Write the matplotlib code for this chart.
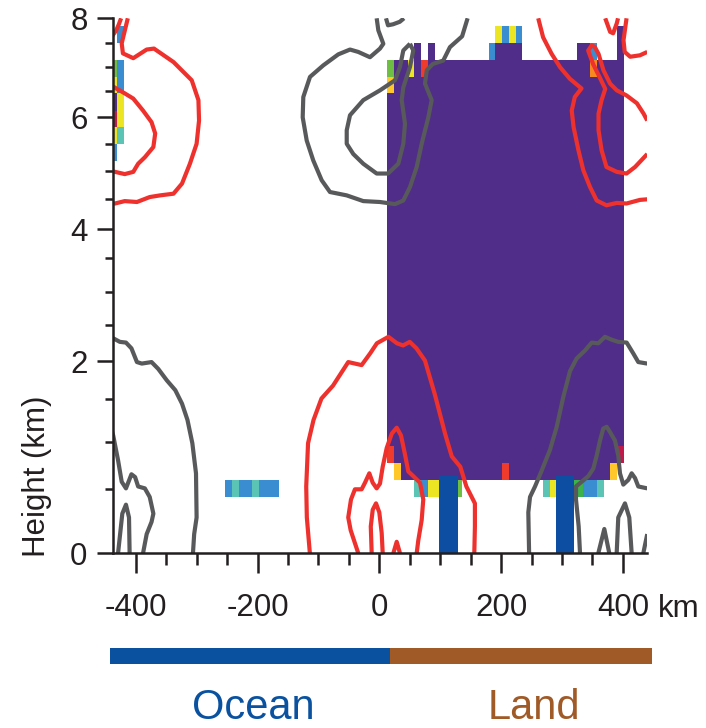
import numpy as np
import matplotlib
matplotlib.use("Agg")
import matplotlib.pyplot as plt
from matplotlib.colors import ListedColormap
from matplotlib.ticker import FixedLocator, MultipleLocator, NullFormatter

plt.rcParams['font.family'] = ['Liberation Sans', 'DejaVu Sans']
plt.rcParams['axes.unicode_minus'] = False

# ---------------- vertical axis stretching (height km -> relative position) ----------
Z_TICK_KM = [0, 0.5, 1, 1.5, 2, 2.5, 3, 3.5, 4, 4.5, 5, 5.5, 6, 6.5, 7, 7.5, 8]
Z_TICK_POS = [0, 64, 111, 154, 192, 228, 261, 295, 324, 354, 382, 409, 436, 462, 486, 510, 535]
Y_MAJOR = [0, 2, 4, 6, 8]
X_MAJOR = [-400, -200, 0, 200, 400]
X_LIM = (-436.8, 439.1)

# ---------------- cell grid ----------------
CELL_X0_KM = -442.0
CELL_DX_KM = 11.1
N_COLS = 80
ROW_EDGES_KM = [0.44, 0.60, 0.78, 0.96, 1.15, 1.34, 1.54, 1.76, 1.99, 2.22, 2.45,
                2.70, 2.96, 3.20, 3.45, 3.73, 4.02, 4.30, 4.59, 4.89, 5.19, 5.51,
                5.82, 6.13, 6.46, 6.80, 7.15, 7.50, 7.84]

CATEGORIES = ['P', 'B', 'T', 'Y', 'G', 'L', 'N', 'R', 'C', 'O']
CAT_COLORS = ['#4F2D89', '#3A8DD0', '#5BC4B4', '#ECE524', '#FFC72A', '#6EBE44',
              '#3BB34A', '#EE3B2B', '#C2194B', '#F6891F']

# (row_lo, row_hi, col_lo, col_hi, category)
CELL_RUNS = [
    (0, 0, 17, 17, 'B'), (0, 0, 18, 18, 'T'), (0, 0, 19, 20, 'B'), (0, 0, 21, 21, 'T'),
    (0, 0, 22, 24, 'B'), (0, 0, 45, 45, 'T'), (0, 0, 46, 46, 'B'), (0, 0, 47, 49, 'Y'),
    (0, 0, 50, 51, 'L'), (0, 0, 64, 64, 'T'), (0, 0, 65, 66, 'Y'), (0, 0, 67, 69, 'N'),
    (0, 0, 70, 71, 'B'), (0, 0, 72, 72, 'T'),
    (1, 1, 42, 42, 'G'), (1, 1, 43, 57, 'P'), (1, 1, 58, 58, 'R'), (1, 1, 59, 73, 'P'),
    (1, 1, 74, 74, 'G'),
    (2, 2, 41, 41, 'R'), (2, 2, 42, 74, 'P'), (2, 2, 75, 75, 'C'),
    (3, 23, 41, 75, 'P'),
    (20, 20, 0, 0, 'B'),
    (21, 21, 0, 0, 'Y'), (21, 21, 1, 1, 'T'),
    (22, 22, 0, 0, 'C'), (22, 22, 1, 1, 'Y'),
    (23, 23, 0, 0, 'P'), (23, 23, 1, 1, 'Y'),
    (24, 24, 0, 0, 'Y'), (24, 24, 1, 1, 'B'), (24, 24, 41, 41, 'G'), (24, 24, 42, 75, 'P'),
    (25, 25, 0, 0, 'L'), (25, 25, 1, 1, 'B'), (25, 25, 41, 41, 'L'), (25, 25, 42, 43, 'P'),
    (25, 25, 44, 44, 'Y'), (25, 25, 45, 45, 'P'), (25, 25, 46, 46, 'R'), (25, 25, 47, 70, 'P'),
    (25, 25, 71, 71, 'O'), (25, 25, 72, 75, 'P'),
    (26, 26, 45, 45, 'P'), (26, 26, 47, 47, 'P'), (26, 26, 56, 56, 'B'), (26, 26, 57, 60, 'P'),
    (26, 26, 69, 70, 'P'), (26, 26, 71, 71, 'B'), (26, 26, 75, 75, 'P'),
    (27, 27, 1, 1, 'B'), (27, 27, 57, 57, 'Y'), (27, 27, 58, 58, 'B'), (27, 27, 59, 59, 'Y'),
    (27, 27, 60, 60, 'B'), (27, 27, 75, 75, 'P'),
]

# ---------------- surface rain bars ----------------
RAIN_CENTER_KM = [113.6, 304.7]
RAIN_WIDTH_KM = [30.0, 30.0]
RAIN_TOP_KM = [0.64, 0.64]
RAIN_COLOR = '#0D4EA2'

# ---------------- red contours (x km, z km) ----------------
red_a_x = [-413, -419, -423, -421, -404, -382, -370, -338, -308, -297, -296, -300, -311,
           -324, -338, -360, -377, -398, -418, -434, -440]
red_a_z = [8.0, 7.70, 7.50, 7.29, 7.19, 7.37, 7.39, 7.11, 6.73, 6.33, 5.94, 5.51, 5.14,
           4.78, 4.60, 4.57, 4.54, 4.455, 4.47, 4.43, 4.43]
red_b_x = [-440, -432, -428, -424]
red_b_z = [7.62, 7.76, 7.87, 8.0]
red_c_x = [-440, -436, -418, -404, -388, -374, -368, -371, -385, -396, -404, -418, -434, -440]
red_c_z = [6.62, 6.59, 6.46, 6.36, 6.13, 5.91, 5.70, 5.45, 5.26, 5.14, 4.99, 4.95, 4.99, 5.0]
red_d_x = [-114, -119, -120, -117, -108, -95, -76, -51, -29, -15, -4, 15, 29, 39, 50, 61,
           75, 91, 108, 119, 133, 143, 157, 157, 156]
red_d_z = [0, 0.28, 0.53, 0.99, 1.26, 1.51, 1.68, 1.99, 1.95, 2.11, 2.25, 2.34, 2.25, 2.22,
           2.27, 2.18, 2.01, 1.57, 1.10, 0.85, 0.74, 0.53, 0.39, 0.21, 0]
red_e_x = [-34.5, -47, -51, -46.5, -40, -29, -23.5, -16.4, -10.8, -4.3, 1.1, 5.6, 12.2,
           20.4, 28.6, 35.6, 42.2, 47.6, 55.8, 66.8, 72.2, 69.6, 64, 61.4]
red_e_z = [0, 0.18, 0.28, 0.42, 0.50, 0.50, 0.57, 0.67, 0.57, 0.51, 0.56, 0.74, 0.94,
           1.10, 1.17, 1.08, 0.87, 0.69, 0.64, 0.57, 0.42, 0.26, 0.10, 0]
red_f_x = [-12.5, -14, -10.8, -5.4, 0, 3.9, 5.6]
red_f_z = [0, 0.21, 0.34, 0.39, 0.32, 0.16, 0]
red_g_x = [23, 28.6, 34]
red_g_z = [0, 0.09, 0]
red_h_x = [261, 269, 283, 297, 313, 332, 321, 316, 319, 327, 335, 346, 357, 373, 390, 406,
           428, 440]
red_h_z = [8.0, 7.62, 7.28, 7.0, 6.76, 6.56, 6.39, 6.13, 5.82, 5.39, 5.02, 4.72, 4.48,
           4.40, 4.44, 4.43, 4.49, 4.5]
red_i_x = [440, 420, 406, 390, 373, 365, 360, 360, 365, 371, 362, 351, 343, 349, 354, 360,
           368, 379, 390, 406, 423, 434, 440]
red_i_z = [5.32, 5.08, 4.96, 4.99, 5.08, 5.39, 5.76, 6.07, 6.33, 6.55, 6.79, 7.07, 7.35,
           7.46, 7.42, 7.28, 6.94, 6.66, 6.52, 6.42, 6.27, 6.07, 5.94]
red_j_x = [371, 379, 384, 390, 392]
red_j_z = [8.0, 7.73, 7.70, 7.90, 8.0]
red_k_x = [406, 401, 403, 412, 428, 440]
red_k_z = [8.0, 7.56, 7.32, 7.22, 7.25, 7.32]

# ---------------- gray contours ----------------
gray_a_x = [-440, -437, -426, -416, -407, -398, -390, -374, -363, -349, -335, -324, -315,
            -307, -301, -300, -304, -306]
gray_a_z = [2.33, 2.32, 2.27, 2.26, 2.18, 1.99, 1.97, 1.99, 1.90, 1.75, 1.62, 1.45, 1.26,
            0.99, 0.67, 0.28, 0.15, 0]
gray_b_x = [-440, -437, -429, -423, -416, -407, -401, -396, -385, -377, -371, -374, -382, -388]
gray_b_z = [1.15, 1.08, 0.81, 0.58, 0.51, 0.66, 0.63, 0.53, 0.51, 0.44, 0.31, 0.245, 0.15, 0]
gray_c_x = [-429, -422, -416, -411, -410]
gray_c_z = [0, 0.31, 0.38, 0.28, 0]
gray_d_x = [-4.3, -1.6, 6.6, 1.1, -15.3, -34.5, -48.1, -67.3, -92, -113.8, -124.8, -125.8,
            -119.2, -108.4, -94.6, -81, -53.5, -26.3, 1.1, 25.8, 39.4, 50.4, 61.4, 69.6,
            80.5, 86, 75, 78, 88, 105, 116, 136, 145]
gray_d_z = [8.0, 7.76, 7.49, 7.39, 7.21, 7.32, 7.37, 7.27, 7.04, 6.80, 6.39, 6.0, 5.57,
            5.20, 4.84, 4.63, 4.57, 4.47, 4.455, 4.42, 4.48, 4.72, 5.08, 5.51, 6.0, 6.33,
            6.66, 6.94, 7.07, 7.14, 7.42, 7.64, 8.0]
gray_e_x = [11, 14.3, 22.5, 33.6, 40.5]
gray_e_z = [8.0, 7.86, 7.88, 7.93, 8.0]
gray_f_x = [50.4, 39.4, 34, 25.8, 1.1, -26.3, -48.1, -53.5, -53.5, -42.7, -26.3, -4.3, 14.3,
            31.2, 39.4, 42.2, 36.8, 39.4, 50.4, 55.8, 50.4]
gray_f_z = [7.49, 7.35, 7.01, 6.73, 6.52, 6.33, 6.04, 5.76, 5.51, 5.32, 5.14, 4.96, 4.96,
            5.14, 5.51, 5.88, 6.33, 6.58, 7.01, 7.35, 7.49]
gray_g_x = [246, 244.7, 247.5, 255.7, 266.7, 280.3, 291.3, 302.1, 313.1, 324.1, 337.8,
            348.8, 359.6, 370.6, 381.6, 392.4, 406.2, 417, 425.3, 440]
gray_g_z = [0, 0.32, 0.44, 0.53, 0.70, 0.92, 1.18, 1.53, 1.87, 2.04, 2.15, 2.26, 2.25,
            2.34, 2.30, 2.27, 2.26, 2.11, 1.99, 1.97]
gray_h_x = [329.6, 327.4, 323, 323, 332.3, 343.2, 351.4, 357, 362.4, 367.8, 373.4, 378.8,
            387, 392.4, 395.2, 400.7, 408.9, 414.4, 419.9, 425.3, 440]
gray_h_z = [0, 0.21, 0.42, 0.53, 0.58, 0.64, 0.72, 0.86, 1.02, 1.16, 1.18, 1.12, 1.02,
            0.86, 0.67, 0.55, 0.60, 0.67, 0.62, 0.53, 0.51]
gray_i_x = [359.6, 369.5, 377.7]
gray_i_z = [0, 0.19, 0]
gray_j_x = [389.8, 392.4, 403.4, 410.5, 414.4]
gray_j_z = [0, 0.28, 0.39, 0.28, 0]
gray_k_x = [433.5, 440]
gray_k_z = [0, 0.15]

RED = '#EE312D'
GRAY = '#58595B'

# ---------------- surface type bar ----------------
SURFACE_EDGES_KM = [-442.2, 17.6, 447.8]
SURFACE_NAMES = ['Ocean', 'Land']
SURFACE_COLORS = ['#0A52A0', '#A05A27']

# =============================== drawing ===============================
W, H = 706, 728
fig = plt.figure(figsize=(W / 100, H / 100), dpi=100)
ax_l, ax_r, ax_t, ax_b = 113.3, 646.7, 18.3, 553.3
ax = fig.add_axes([ax_l / W, 1 - ax_b / H, (ax_r - ax_l) / W, (ax_b - ax_t) / H])


def fwd(z):
    return np.interp(z, Z_TICK_KM, Z_TICK_POS)


def inv(p):
    return np.interp(p, Z_TICK_POS, Z_TICK_KM)


ax.set_yscale('function', functions=(fwd, inv))

# cells
n_rows = len(ROW_EDGES_KM) - 1
grid = np.full((n_rows, N_COLS), np.nan)
for r0, r1, c0, c1, cat in CELL_RUNS:
    grid[r0:r1 + 1, c0:c1 + 1] = CATEGORIES.index(cat)
x_edges = CELL_X0_KM + CELL_DX_KM * np.arange(N_COLS + 1)
cmap = ListedColormap(CAT_COLORS)
ax.pcolormesh(x_edges, ROW_EDGES_KM, np.ma.masked_invalid(grid), cmap=cmap,
              vmin=-0.5, vmax=len(CATEGORIES) - 0.5, shading='flat',
              edgecolors='none', linewidth=0, antialiased=False, zorder=1)

lw = 3.0
for xs, zs in [(red_a_x, red_a_z), (red_b_x, red_b_z), (red_c_x, red_c_z),
               (red_d_x, red_d_z), (red_e_x, red_e_z), (red_f_x, red_f_z),
               (red_g_x, red_g_z), (red_h_x, red_h_z), (red_i_x, red_i_z),
               (red_j_x, red_j_z), (red_k_x, red_k_z)]:
    ax.plot(xs, zs, color=RED, lw=lw, solid_joinstyle='round', solid_capstyle='butt', zorder=2)
for xs, zs in [(gray_a_x, gray_a_z), (gray_b_x, gray_b_z), (gray_c_x, gray_c_z),
               (gray_d_x, gray_d_z), (gray_e_x, gray_e_z), (gray_f_x, gray_f_z),
               (gray_g_x, gray_g_z), (gray_h_x, gray_h_z), (gray_i_x, gray_i_z),
               (gray_j_x, gray_j_z), (gray_k_x, gray_k_z)]:
    ax.plot(xs, zs, color=GRAY, lw=lw, solid_joinstyle='round', solid_capstyle='butt', zorder=2)

ax.bar(RAIN_CENTER_KM, RAIN_TOP_KM, width=RAIN_WIDTH_KM, bottom=0, color=RAIN_COLOR,
       linewidth=0, zorder=3)

ax.set_xlim(*X_LIM)
ax.set_ylim(0, 8)

for s in ['top', 'right']:
    ax.spines[s].set_visible(False)
for s in ['left', 'bottom']:
    ax.spines[s].set_linewidth(1.8)
    ax.spines[s].set_color('#231F20')
    ax.spines[s].set_zorder(5)

ax.yaxis.set_major_locator(FixedLocator(Y_MAJOR))
ax.yaxis.set_minor_locator(FixedLocator(Z_TICK_KM))
ax.yaxis.set_minor_formatter(NullFormatter())
ax.set_yticklabels([str(v) for v in Y_MAJOR])
ax.xaxis.set_major_locator(FixedLocator(X_MAJOR))
ax.xaxis.set_minor_locator(MultipleLocator(50))
ax.set_xticklabels([str(v) for v in X_MAJOR])

FS = 22.5
ax.tick_params(axis='y', which='major', length=11.5, width=1.8, pad=7, labelsize=FS,
               color='#231F20', labelcolor='#231F20')
ax.tick_params(axis='y', which='minor', length=5.8, width=1.8, color='#231F20')
ax.tick_params(axis='x', which='major', length=14.4, width=1.8, pad=14, labelsize=FS,
               color='#231F20', labelcolor='#231F20')
ax.tick_params(axis='x', which='minor', length=8.6, width=1.8, color='#231F20')

fig.text(37 / W, 1 - 476 / H, 'Height (km)', rotation=90, ha='center', va='center',
         fontsize=FS, color='#231F20')
fig.text(658 / W, 1 - 616.7 / H, 'km', ha='left', va='baseline', fontsize=FS,
         color='#231F20')

# surface bar
bax = fig.add_axes([110 / W, 1 - 664 / H, 542 / W, 16 / H])
for i, name in enumerate(SURFACE_NAMES):
    bax.barh(0, SURFACE_EDGES_KM[i + 1] - SURFACE_EDGES_KM[i], left=SURFACE_EDGES_KM[i],
             height=1, color=SURFACE_COLORS[i], linewidth=0)
bax.set_xlim(SURFACE_EDGES_KM[0], SURFACE_EDGES_KM[-1])
bax.set_ylim(-0.5, 0.5)
bax.axis('off')

fig.text(253 / W, 1 - 719 / H, 'Ocean', ha='center', va='baseline', fontsize=30,
         color=SURFACE_COLORS[0])
fig.text(534 / W, 1 - 719 / H, 'Land', ha='center', va='baseline', fontsize=30,
         color=SURFACE_COLORS[1])

fig.savefig('out.png', dpi=100)
